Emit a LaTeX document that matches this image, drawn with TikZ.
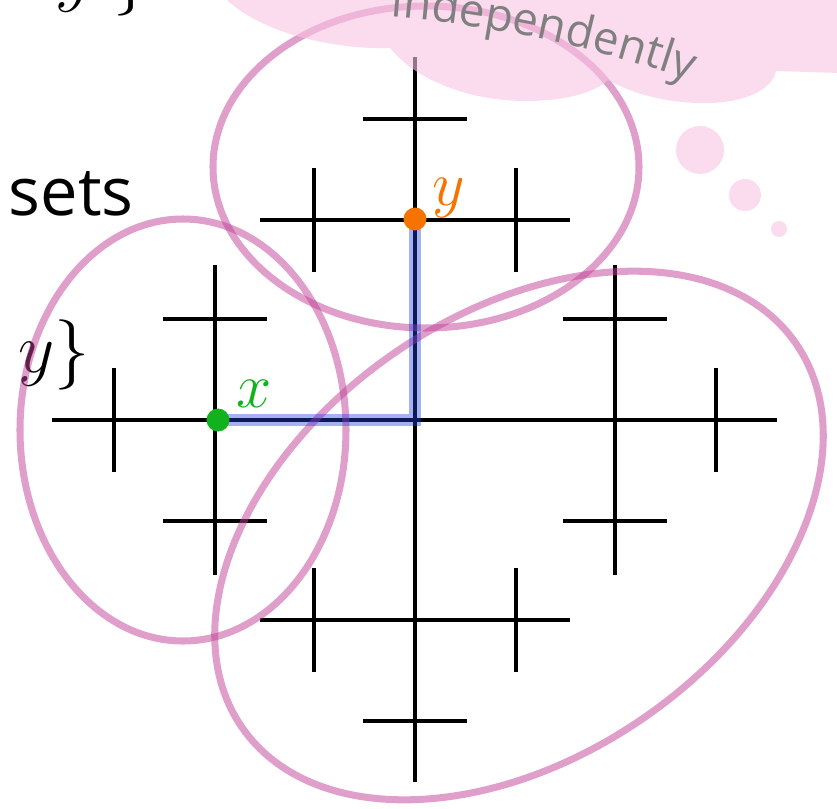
\documentclass[tikz,border=0pt]{standalone}
\usepackage{fontspec}
\usepackage{fix-cm}
\usetikzlibrary{positioning,decorations.text}
\newfontfamily\slidefont{Open Sans}
\definecolor{setpink}{RGB}{192,64,150}
\definecolor{cloudpink}{RGB}{248,197,228}
\definecolor{pathblue}{RGB}{30,60,220}
\definecolor{xgreen}{RGB}{17,178,30}
\definecolor{yorange}{RGB}{245,115,0}
\definecolor{wordgray}{RGB}{128,128,128}

\begin{document}
\begin{tikzpicture}[
  treeline/.style={line width=0.9pt},
  setloop/.style={draw=setpink, draw opacity=0.5, line width=2pt},
  ptlabel/.style={anchor=base west, inner sep=0pt, font=\fontsize{18}{20}\selectfont}
]
\useasboundingbox (-4.15,-3.88) rectangle (4.22,4.20);

\draw[treeline] (-3.63,0) -- (3.62,0);
\draw[treeline] (0,-3.62) -- (0,3.63);
\foreach \a in {0,90,180,270} {
  \begin{scope}[rotate=\a]
    \draw[treeline] (2,-1.55) -- (2,1.55);
    \draw[treeline] (1.48,1.01) -- (2.52,1.01);
    \draw[treeline] (1.48,-1.01) -- (2.52,-1.01);
    \draw[treeline] (3.01,-0.52) -- (3.01,0.52);
  \end{scope}
}

\node[anchor=base west, inner sep=0pt, font=\slidefont\fontsize{19}{23}\selectfont] (sets) at (-4.07,2.05) {sets};
\node[anchor=base west, inner sep=0pt, font=\fontsize{20}{24}\selectfont] (pair) at (-3.97,0.48) {$y\}$};
\node[anchor=base west, inner sep=0pt, font=\fontsize{20}{24}\selectfont] (pairtop) at (-3.60,4.21) {$y\ \}$};

\draw[setloop] (0.11,2.53) ellipse [x radius=2.13, y radius=1.61];
\draw[setloop] (-2.32,-0.10) ellipse [x radius=1.63, y radius=2.11];
\draw[setloop, rotate around={34.75:(1.04,-1.155)}] (1.04,-1.155) ellipse [x radius=3.37, y radius=2.21];

\fill[cloudpink, fill opacity=0.6] (-2.05,4.40) .. controls (-1.75,3.90) and (-0.85,3.70) .. (-0.25,3.72)
  .. controls (0.05,3.35) and (0.65,3.18) .. (1.15,3.19)
  .. controls (1.55,3.20) and (1.80,3.28) .. (1.93,3.40)
  .. controls (2.25,3.22) and (2.65,3.16) .. (2.95,3.17)
  .. controls (3.30,3.18) and (3.57,3.30) .. (3.61,3.49)
  -- (4.25,3.47) -- (4.25,4.40) -- cycle;
\fill[cloudpink, fill opacity=0.6] (2.85,2.70) circle (0.24) (3.30,2.25) circle (0.16) (3.64,1.91) circle (0.08);

\path[decorate, decoration={text along path, text align=center, text color=wordgray,
  text={|\slidefont\fontsize{13}{15}\selectfont|independently}}] (-1.22,4.07) arc[start angle=90, end angle=66, radius=12];

\coordinate (x) at (-1.97,0);
\coordinate (y) at (0,2.01);
\draw[pathblue, draw opacity=0.4, line width=0.12cm] (x) -| (y);
\fill[xgreen] (x) circle (0.115);
\fill[yorange] (y) circle (0.115);
\node[ptlabel, text=xgreen] (xlab) at ([shift={(0.18,0.13)}]x) {$x$};
\node[ptlabel, text=yorange] (ylab) at ([shift={(0.17,0.14)}]y) {$y$};
\end{tikzpicture}
\end{document}
